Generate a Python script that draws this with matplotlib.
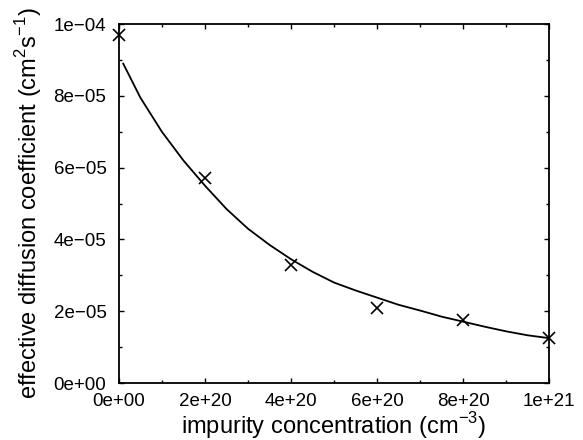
import matplotlib
matplotlib.use("Agg")
import matplotlib.pyplot as plt
from matplotlib.ticker import MultipleLocator

plt.rcParams['font.family'] = ['Liberation Sans', 'DejaVu Sans']
plt.rcParams['mathtext.fontset'] = 'custom'
plt.rcParams['mathtext.rm'] = 'Liberation Sans'

# measured points (crosses)
conc = [0.0, 2e20, 4e20, 6e20, 8e20, 1e21]
diff = [9.7e-5, 5.7e-5, 3.3e-5, 2.1e-5, 1.75e-5, 1.25e-5]

# fitted curve
fit_conc = [0.1e20, 0.5e20, 1.0e20, 1.5e20, 2.0e20, 2.5e20, 3.0e20, 3.5e20,
            4.0e20, 4.5e20, 5.0e20, 5.5e20, 6.0e20, 6.5e20, 7.0e20, 7.5e20,
            8.0e20, 8.5e20, 9.0e20, 9.5e20, 10.0e20]
fit_diff = [8.9e-5, 7.95e-5, 7.0e-5, 6.2e-5, 5.5e-5, 4.85e-5, 4.3e-5, 3.85e-5,
            3.45e-5, 3.1e-5, 2.8e-5, 2.58e-5, 2.38e-5, 2.18e-5, 2.02e-5, 1.85e-5,
            1.71e-5, 1.57e-5, 1.44e-5, 1.33e-5, 1.25e-5]

xticks = [0, 2e20, 4e20, 6e20, 8e20, 1e21]
xlabels = ['0e+00', '2e+20', '4e+20', '6e+20', '8e+20', '1e+21']
yticks = [0, 2e-5, 4e-5, 6e-5, 8e-5, 1e-4]
ylabels = ['0e+00', '2e\u221205', '4e\u221205', '6e\u221205', '8e\u221205', '1e\u221204']

fig = plt.figure(figsize=(5.83, 4.40), dpi=100)
ax = fig.add_axes([0.204, 0.1295, 0.738, 0.8155])

ax.plot(fit_conc, fit_diff, color='black', lw=1.3)
ax.plot(conc, diff, 'x', color='black', ms=8.5, mew=1.2, clip_on=False)

ax.set_xlim(0, 1e21)
ax.set_ylim(0, 1e-4)
ax.set_xticks(xticks)
ax.set_xticklabels(xlabels)
ax.set_yticks(yticks)
ax.set_yticklabels(ylabels)
ax.xaxis.set_minor_locator(MultipleLocator(1e20))
ax.yaxis.set_minor_locator(MultipleLocator(1e-5))
ax.tick_params(which='both', direction='in', top=True, right=True,
               labelsize=13.5, width=1.0)
ax.tick_params(which='major', length=3.5)
ax.tick_params(which='minor', length=2.5)
ax.tick_params(axis='x', which='major', pad=7.5)
ax.tick_params(axis='y', which='major', pad=9)
for s in ax.spines.values():
    s.set_linewidth(1.3)

ax.set_xlabel('impurity concentration (cm$^{-3}$)', fontsize=17, labelpad=0)
ax.set_ylabel('effective diffusion coefficient (cm$^{2}$s$^{\u22121}$)', fontsize=17,
              labelpad=7)

fig.savefig('out.png', dpi=100)
